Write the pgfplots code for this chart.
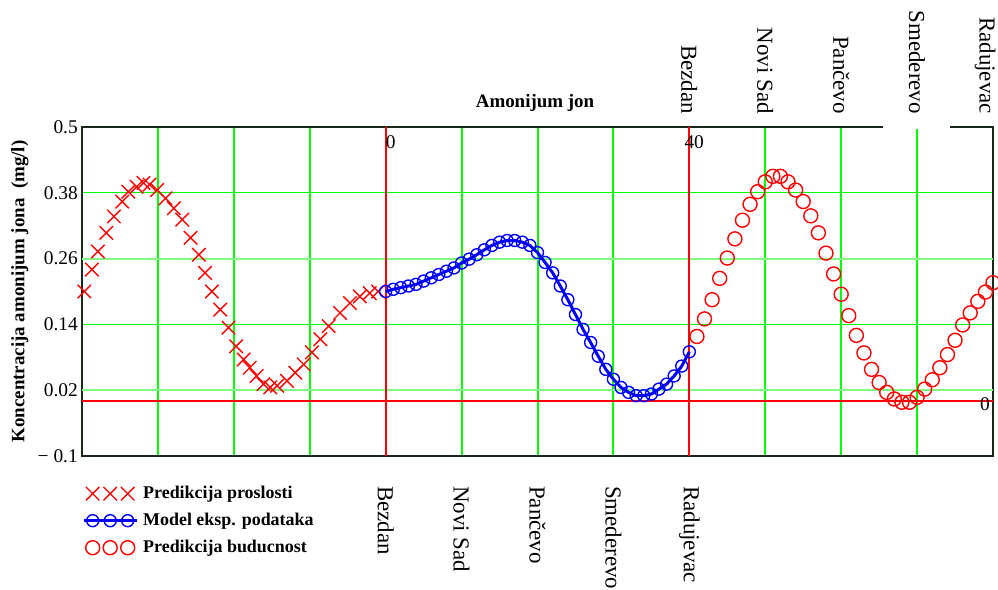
\documentclass[border=0pt]{standalone}
\usepackage{pgfplots}
\pgfplotsset{compat=1.18}
\usepackage{fontspec}
\setmainfont{Liberation Serif}
\definecolor{gridgreen}{RGB}{0,255,0}
\definecolor{lightgridgreen}{RGB}{128,250,128}
\definecolor{framec}{RGB}{25,40,25}
\pgfplotsset{
  threemarks/.style={legend image code/.code={%
    \draw[##1] plot coordinates {(0bp,0bp) (17.5bp,0bp) (35bp,0bp)};}},
  linemarks/.style={legend image code/.code={%
    \draw[##1, mark=none] (-9bp,0bp) -- (44bp,0bp);
    \draw[##1] plot[only marks] coordinates {(0bp,0bp) (17.5bp,0bp) (35bp,0bp)};}},
}
\begin{document}
\begin{tikzpicture}
\path[use as bounding box] (-82bp,-134bp) rectangle (916bp,456bp);
\begin{axis}[
  at={(0,0)}, anchor=south west,
  scale only axis, width=911bp, height=329bp,
  xmin=-40, xmax=80, ymin=-0.1, ymax=0.5,
  xtick={-30,-20,-10,10,20,30,50,60,70},
  xticklabels={},
  ytick={-0.1,0.02,0.14,0.26,0.38,0.5},
  yticklabels={− 0.1,0.02,0.14,0.26,0.38,0.5},
  xmajorgrids=true, ymajorgrids=true,
  x grid style={draw=gridgreen, line width=2bp},
  y grid style={draw=gridgreen, line width=1.3bp},
  major tick length=0pt,
  axis line style={framec, line width=1.8bp},
  yticklabel style={font=\fontsize{19.5}{20}\selectfont, inner sep=0pt, xshift=-4bp},
  clip mode=individual,
  legend style={at={(0,0)}, anchor=north west, yshift=-27bp,
    draw=none, fill=none, inner sep=0pt, row sep=6bp, column sep=3bp,
    font=\bfseries\fontsize{18}{20}\selectfont,
    nodes={inner sep=2bp, text height=13bp, text depth=4bp, anchor=west}},
  legend cell align=left,
]
\addplot[lightgridgreen, line width=2.2bp, mark=none, forget plot] coordinates {(-40,0.26) (80,0.26)};
\addplot[lightgridgreen, line width=2.2bp, mark=none, forget plot] coordinates {(-40,0.02) (80,0.02)};
\addplot[red, line width=1.8bp, mark=none, forget plot] coordinates {(0,-0.1) (0,0.5)};
\addplot[red, line width=1.8bp, mark=none, forget plot] coordinates {(40,-0.1) (40,0.5)};
\addplot[red, line width=1.5bp, mark=none, forget plot] coordinates {(-40,0) (80,0)};
\addplot[red, only marks, mark=x, mark size=9.5bp, mark options={line width=1.4bp}, threemarks]
  table {
x y
-39.7 0.200
-38.7 0.240
-37.9 0.273
-36.8 0.307
-35.8 0.337
-34.7 0.364
-33.9 0.382
-32.8 0.391
-31.9 0.398
-31.1 0.395
-30.1 0.385
-29.0 0.370
-27.9 0.352
-26.8 0.331
-25.7 0.298
-24.6 0.267
-23.8 0.234
-22.9 0.200
-21.8 0.167
-20.7 0.134
-19.7 0.100
-18.7 0.076
-17.9 0.061
-17.0 0.046
-16.1 0.031
-15.2 0.025
-14.3 0.028
-13.0 0.037
-11.9 0.052
-10.8 0.067
-9.7 0.089
-8.6 0.113
-7.5 0.137
-6.0 0.161
-4.7 0.179
-3.4 0.191
-2.1 0.197
-1.0 0.200
};
\addlegendentry{Predikcija proslosti}
\addplot[blue, line width=3bp, mark=o, mark size=6bp, mark options={line width=1.4bp}, linemarks]
  table {
x y
0 0.200
1 0.204
2 0.207
3 0.210
4 0.213
5 0.219
6 0.225
7 0.231
8 0.237
9 0.243
10 0.252
11 0.259
12 0.267
13 0.276
14 0.284
15 0.290
16 0.293
17 0.293
18 0.290
19 0.284
20 0.271
21 0.253
22 0.234
23 0.210
24 0.185
25 0.158
26 0.131
27 0.107
28 0.082
29 0.058
30 0.040
31 0.025
32 0.016
33 0.010
34 0.010
35 0.013
36 0.022
37 0.031
38 0.046
39 0.064
40 0.090
};
\addlegendentry{Model eksp. podataka}
\addplot[red, only marks, mark=o, mark size=7bp, mark options={line width=1.4bp}, threemarks]
  table {
x y
41 0.118
42 0.150
43 0.185
44 0.224
45 0.261
46 0.296
47 0.330
48 0.359
49 0.382
50 0.400
51 0.410
52 0.410
53 0.400
54 0.385
55 0.364
56 0.338
57 0.307
58 0.270
59 0.232
60 0.195
61 0.156
62 0.120
63 0.088
64 0.058
65 0.034
66 0.016
67 0.004
68 -0.002
69 -0.002
70 0.007
71 0.022
72 0.039
73 0.061
74 0.085
75 0.111
76 0.139
77 0.161
78 0.182
79 0.199
80 0.216
};
\addlegendentry{Predikcija buducnost}
\end{axis}
% picture coordinates: axis x -> (x+40)*7.59167 bp ; axis y -> (y+0.1)*548.33 bp
\fill[white] (801bp,327bp) rectangle (868bp,338bp);
\foreach \xx/\nm in {0/Bezdan,10/Novi Sad,20/Pančevo,30/Smederevo,40/Radujevac}{
  \node[rotate=-90, anchor=west, inner sep=0pt, font=\fontsize{23}{24}\selectfont] at ({(\xx+40)*7.59167*1bp},-30bp) {\nm};
}
\foreach \xx/\nm in {40/Bezdan,50/Novi Sad,60/Pančevo,70/Smederevo}{
  \node[rotate=-90, anchor=east, inner sep=0pt, font=\fontsize{23}{24}\selectfont] at ({(\xx+40)*7.59167*1bp},342bp) {\nm};
}
\node[rotate=-90, anchor=east, inner sep=0pt, font=\fontsize{23}{24}\selectfont] at (903bp,342bp) {Radujevac};
\node[anchor=north west, inner sep=0pt, font=\fontsize{19.5}{20}\selectfont] at (303.7bp,321bp) {0};
\node[anchor=north west, inner sep=0pt, font=\fontsize{19.5}{20}\selectfont] at (602.3bp,321bp) {40};
\node[anchor=north east, inner sep=0pt, font=\fontsize{19.5}{20}\selectfont] at (908bp,58.8bp) {0};
\node[anchor=base, font=\bfseries\fontsize{19}{20}\selectfont] at (453bp,348bp) {Amonijum jon};
\node[rotate=90, font=\bfseries\fontsize{19}{20}\selectfont] at (-62bp,164.5bp) {Koncentracija amonijum jona\ \ (mg/l)};
\end{tikzpicture}
\end{document}
